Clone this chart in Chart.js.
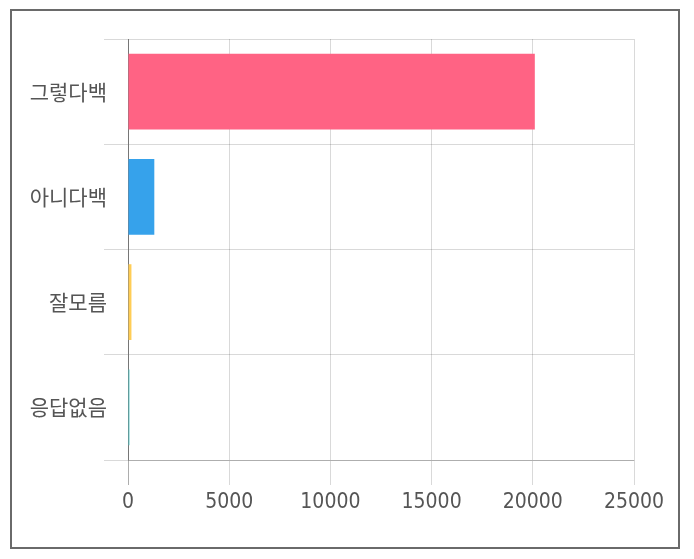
<!DOCTYPE html>
<html>
<head>
<meta charset="utf-8">
<script src="https://cdn.jsdelivr.net/npm/chart.js@4/dist/chart.umd.min.js"></script>
<style>
  html, body { margin: 0; padding: 0; background: #fff; }
  #wrap { position: relative; width: 694px; height: 559px; overflow: hidden; }
  #frame { position: absolute; left: 10px; top: 9px; width: 670px; height: 540px; box-sizing: border-box; border: 2px solid #6a6a6a; }
  #c { position: absolute; left: 0; top: 0; }
</style>
</head>
<body>
<div id="wrap">
  <div id="frame"></div>
  <canvas id="c" width="694" height="559"></canvas>
</div>
<script>
const categories = ['그렇다백', '아니다백', '잘모름', '응답없음'];
const counts = [20100, 1300, 170, 70];
const barColors = ['#FF6384', '#36A2EB', '#FFCD56', '#4BC0C0'];
const xTickValues = [0, 5000, 10000, 15000, 20000, 25000];

new Chart(document.getElementById('c'), {
  type: 'bar',
  data: {
    labels: categories,
    datasets: [{
      data: counts,
      backgroundColor: barColors,
      borderWidth: 0
    }]
  },
  options: {
    indexAxis: 'y',
    responsive: false,
    animation: false,
    layout: { padding: { top: 39, right: 60, bottom: 0, left: 0 } },
    plugins: { legend: { display: false }, tooltip: { enabled: false } },
    scales: {
      x: {
        min: xTickValues[0],
        max: xTickValues[xTickValues.length - 1],
        afterBuildTicks: (s) => { s.ticks = xTickValues.map(v => ({ value: v })); },
        afterFit: (s) => { s.height = 99; },
        ticks: {
          color: '#555',
          padding: 5,
          callback: (v) => String(v),
          font: { family: "'DejaVu Sans Condensed', 'Liberation Sans Narrow', sans-serif", size: 21 }
        },
        grid: {
          tickLength: 25,
          color: (ctx) => (ctx.tick && ctx.tick.value === 0) ? 'rgba(0,0,0,0.32)' : 'rgba(0,0,0,0.15)'
        },
        border: { color: 'rgba(0,0,0,0.2)' }
      },
      y: {
        afterFit: (s) => { s.width = 128; },
        ticks: {
          color: '#555',
          padding: -3,
          font: { family: "'Noto Sans CJK KR', sans-serif", size: 21 }
        },
        grid: {
          tickLength: 24,
          color: 'rgba(0,0,0,0.15)'
        },
        border: { color: 'rgba(0,0,0,0.32)' }
      }
    }
  }
});
</script>
</body>
</html>
